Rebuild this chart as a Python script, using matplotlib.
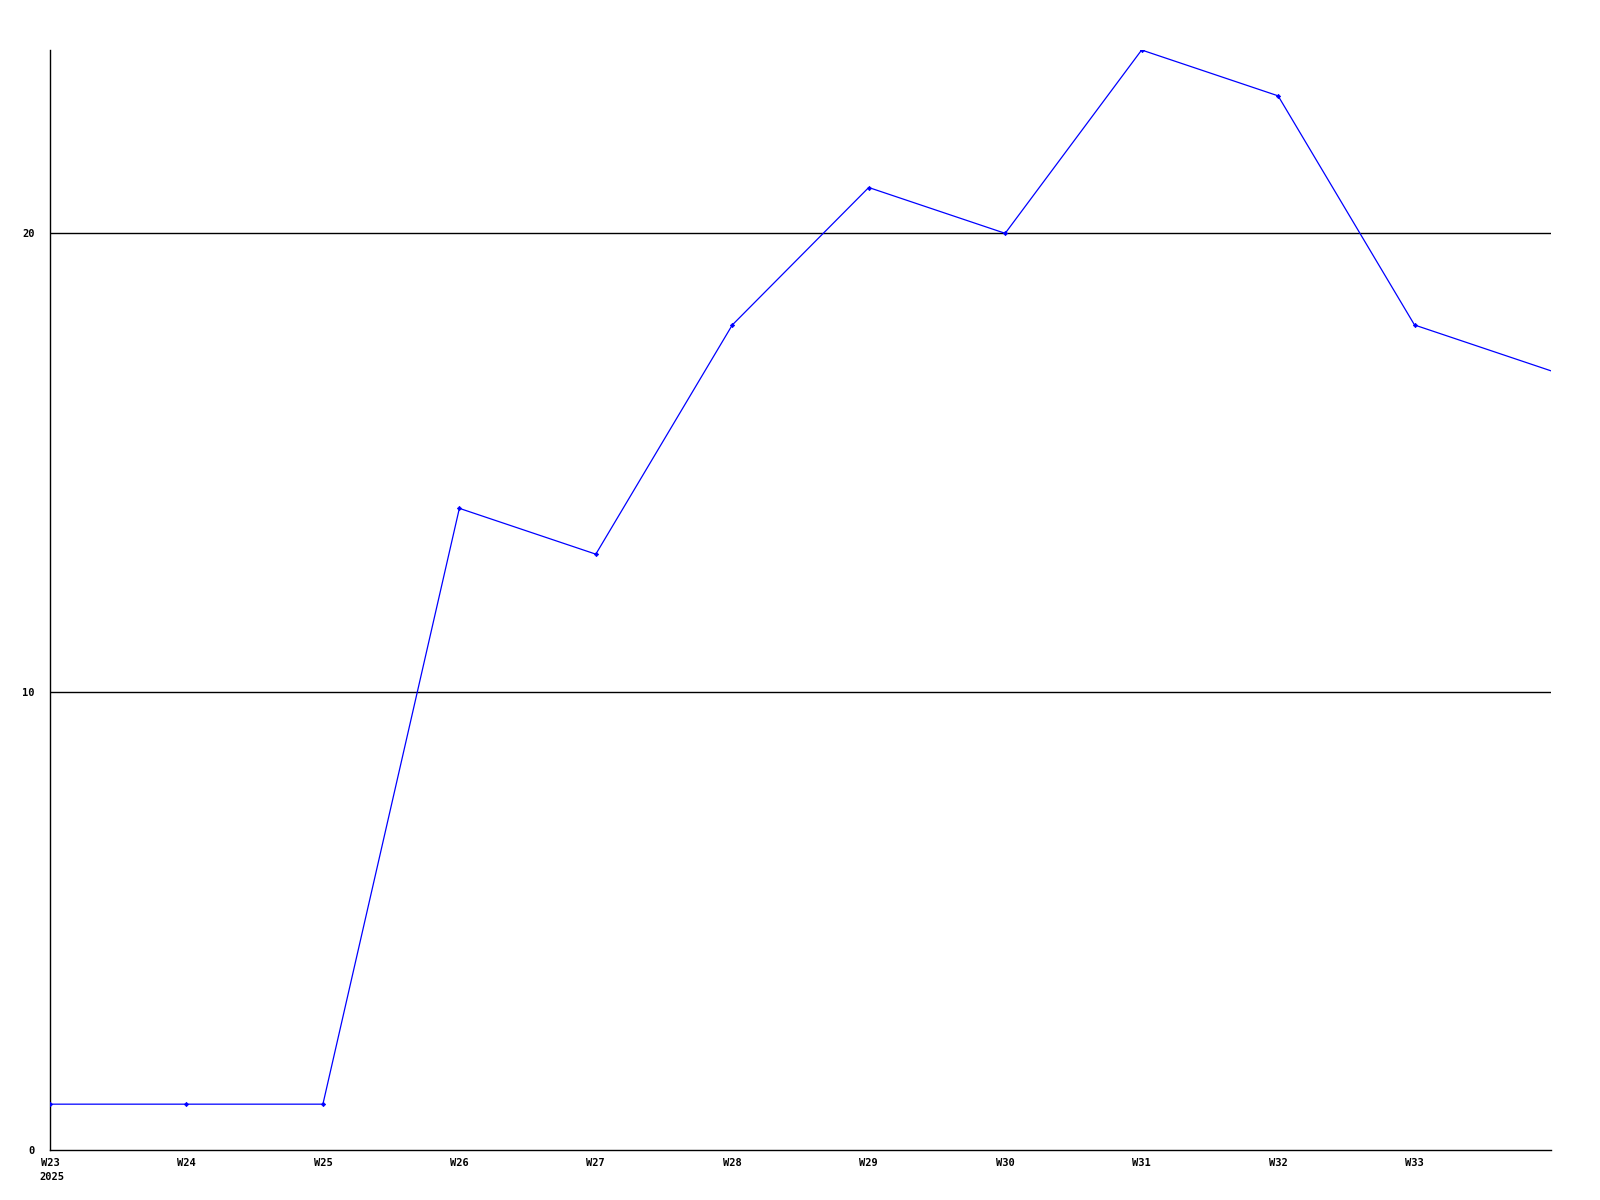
import matplotlib
matplotlib.use("Agg")
import matplotlib.pyplot as plt

weeks = ["W23", "W24", "W25", "W26", "W27", "W28", "W29", "W30", "W31", "W32", "W33", "W34"]
values = [1, 1, 1, 14, 13, 18, 21, 20, 24, 23, 18, 17]
year = "2025"
y_ticks = [0, 10, 20]

plt.rcParams['font.family'] = ['DejaVu Sans Mono']
plt.rcParams['font.weight'] = 'bold'

fig = plt.figure(figsize=(16, 12), dpi=100)
ax = fig.add_axes([50 / 1600, 50 / 1200, 1501 / 1600, 1100 / 1200])

x = list(range(len(weeks)))
for yv in y_ticks[1:]:
    ax.axhline(yv, color='black', linewidth=1.0, zorder=1)
# last point sits on the right edge and has no marker in the original
ax.plot(x, values, color='blue', linewidth=0.9, marker='D', markersize=2.2,
        markeredgewidth=0.5, markevery=list(range(len(weeks) - 1)), zorder=3)

ax.set_xlim(0, len(weeks) - 1)
ax.set_ylim(0, 24)
ax.set_xticks(x[:-1])
ax.set_xticklabels(weeks[:-1], fontsize=7.5, fontweight='bold')
ax.set_yticks(y_ticks)
ax.set_yticklabels([str(v) for v in y_ticks], fontsize=7.5, fontweight='bold')
ax.tick_params(axis='x', length=0, pad=6)
ax.tick_params(axis='y', length=0, pad=11)

ax.annotate(year, xy=(0, 0), xycoords='data', xytext=(-11, -22),
            textcoords='offset pixels', ha='left', va='top',
            fontsize=7.5, fontweight='bold', annotation_clip=False)

for side in ['top', 'right']:
    ax.spines[side].set_visible(False)
for side in ['left', 'bottom']:
    ax.spines[side].set_linewidth(1.0)

fig.savefig("out.png", dpi=100)
